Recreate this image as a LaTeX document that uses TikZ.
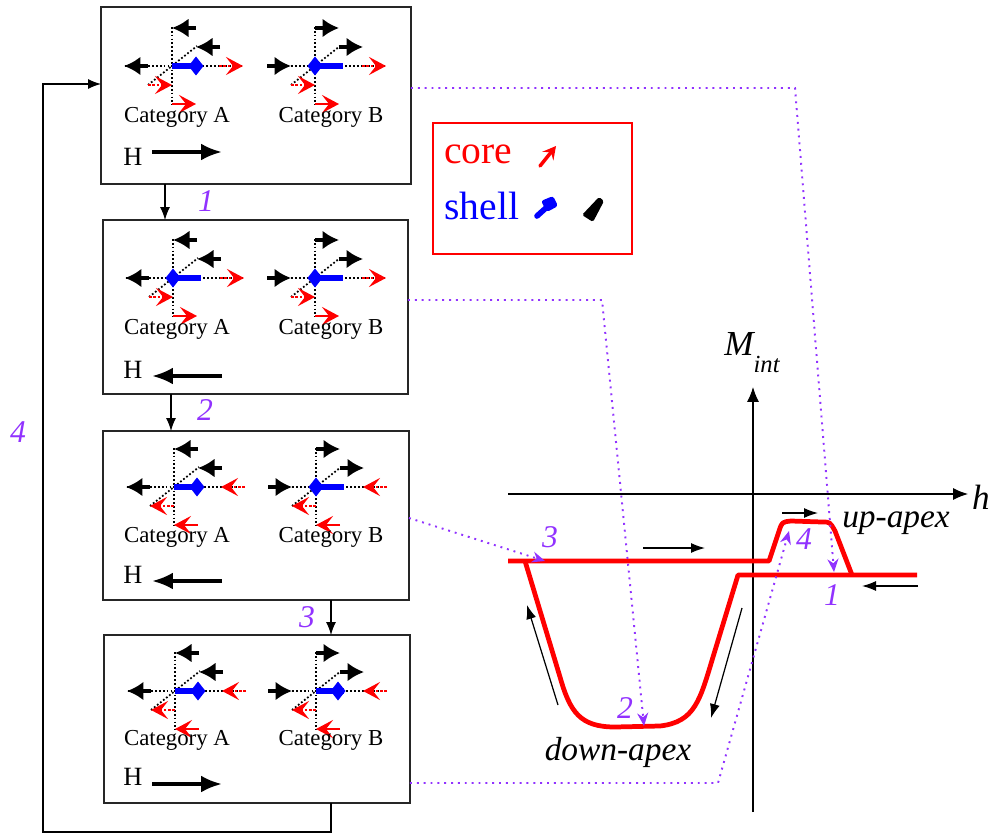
\documentclass[tikz,border=0pt]{standalone}
\usepackage{fontspec}
\setmainfont{Liberation Serif}
\usetikzlibrary{arrows.meta}
\definecolor{loopviolet}{RGB}{145,50,255}

\begin{document}
\begin{tikzpicture}[x=0.02cm,y=-0.02cm,font=\fontsize{13}{15}\selectfont]
    \tikzset{
        panel/.style={draw=black!85,line width=0.9pt,inner sep=0pt,outer sep=0pt},
        flow/.style={line width=0.7pt,-{Latex[length=2.6mm,width=2mm]}},
        crossline/.style={black,line width=1pt,dash pattern=on 1pt off 1.2pt},
        spin/.style={line width=2pt,-{Latex[length=3.3mm,width=3.8mm]}},
        corearrow/.style={red,line width=1.5pt,-{Stealth[length=3.4mm,width=3.6mm,inset=1.4mm]}},
        field/.style={line width=2.2pt,-{Latex[length=4.2mm,width=3.4mm]}},
        loopnum/.style={text=loopviolet,font=\fontsize{18}{18}\selectfont\itshape},
        track/.style={loopviolet,line width=1.1pt,dash pattern=on 1.1pt off 2.8pt,
            -{Stealth[length=2.6mm,width=2.2mm]}},
        loopcurve/.style={red,line width=2.7pt,line join=round},
        hint/.style={line width=0.7pt,-{Latex[length=2.8mm,width=2mm]}},
        apex/.style={font=\fontsize{19}{19}\selectfont\itshape}
    }
    \useasboundingbox (0,0) rectangle (989,834);

    % the four states, pixel units, y pointing down
    \node[panel,minimum width=6.2cm,minimum height=3.54cm] (b1) at (256,95.5) {};
    \node[panel,minimum width=6.1cm,minimum height=3.48cm] (b2) at (255.5,307) {};
    \node[panel,minimum width=6.12cm,minimum height=3.38cm] (b3) at (256,515.5) {};
    \node[panel,minimum width=6.12cm,minimum height=3.36cm] (b4) at (257,719) {};

    % cross centre / shell arrows / core arrows / diamond offset
    \foreach \gx/\gy/\bd/\rd/\dp in {
        172/66/-1/1/24, 315/66/1/1/0,
        173/278/-1/1/0, 315/278/1/1/0,
        174/487/-1/-1/23, 316/487/1/-1/0,
        175/691/-1/-1/23, 316/691/1/-1/22}{
        \begin{scope}[shift={(\gx,\gy)}]
            \draw[crossline] (0,-39) -- (0,39);
            \draw[crossline] (-47,0) -- (70,0);
            \draw[crossline] (-24,19) -- (25,-20);
            \draw[blue,line width=3pt] (0,0) -- (28,0);
            \fill[blue] ({\dp-7.5},0) -- (\dp,-9.5) -- ({\dp+7.5},0) -- (\dp,9.5) -- cycle;
            \draw[spin] ({12-12*\bd},-38) -- ({12+12*\bd},-38);
            \draw[spin] ({36-12*\bd},-19) -- ({36+12*\bd},-19);
            \draw[spin] ({-36-12*\bd},0) -- ({-36+12*\bd},0);
            \draw[corearrow,densely dotted] ({59-12*\rd},0) -- ({59+12*\rd},0);
            \draw[corearrow,densely dotted] ({-12-12*\rd},19) -- ({-12+12*\rd},19);
            \draw[corearrow] ({12-12*\rd},38) -- ({12+12*\rd},38);
        \end{scope}
    }

    \foreach \ty/\hy/\ay/\hd [count=\i] in {
        117/157/152/1, 329/370/376/-1, 537/575/581/-1, 740/777/784/1}{
        \node (ca\i) at (177,\ty) {Category A};
        \node (cb\i) at (331,\ty) {Category B};
        \node[font=\fontsize{15}{15}\selectfont] (h\i) at (133,\hy) {H};
        \draw[field] ({187-35*\hd},\ay) -- ({187+35*\hd},\ay);
    }

    % cycle between the states
    \coordinate (a1) at (165,0);
    \coordinate (a2) at (171,0);
    \coordinate (a3) at (331,0);
    \coordinate (lp) at (43,832);
    \coordinate (ly) at (0,84);
    \draw[flow] (b1.south -| a1) -- (b2.north -| a1);
    \draw[flow] (b2.south -| a2) -- (b3.north -| a2);
    \draw[flow] (b3.south -| a3) -- (b4.north -| a3);
    \draw[flow] (b4.south -| a3) |- (lp) |- (b1.west |- ly);
    \node[loopnum] (n1) at (206,201) {1};
    \node[loopnum] (n2) at (205,410) {2};
    \node[loopnum] (n3) at (307,617) {3};
    \node[loopnum] (n4) at (18,432) {4};

    % legend
    \node[draw=red,line width=0.8pt,inner sep=0pt,
        minimum width=3.98cm,minimum height=2.62cm] (legend) at (532.5,188.5) {};
    \node[anchor=base west,inner sep=0pt,text=red,
        font=\fontsize{22.5}{24}\selectfont] (core) at (444,164) {core};
    \node[anchor=base west,inner sep=0pt,text=blue,
        font=\fontsize{22.5}{24}\selectfont] (shell) at (444,220) {shell};
    \draw[red,line width=2pt,line cap=round,
        -{Stealth[length=2.6mm,width=2.8mm,inset=1mm]}] (540,166) -- (556,146);
    \draw[blue,line width=3.2pt,line cap=round] (537,216) -- (547,207);
    \fill[blue,rounded corners=1.5pt] (541,201) -- (553,196) -- (558,206) -- (547,212) -- cycle;
    \fill[black,rounded corners=1pt] (582,215) -- (593,222) -- (604,201) -- (599,197) -- cycle;

    % axes
    \draw[line width=0.6pt,-{Latex[length=3mm,width=2.4mm]}] (508,494) -- (968,494);
    \draw[line width=0.6pt,-{Latex[length=3mm,width=2.4mm]}] (753,812) -- (753,387);
    \node[font=\fontsize{20}{20}\selectfont\itshape] (hlab) at (981,497) {h};
    \node[anchor=base west,inner sep=0pt,font=\fontsize{20}{20}\selectfont\itshape]
        (mlab) at (724,355) {M\raisebox{-10pt}{\fontsize{14}{14}\selectfont int}};

    % loop of M_int against h
    \draw[loopcurve] (508,561) -- (769,561) -- (779,531) .. controls (782,522) .. (791,521)
        -- (822,522) .. controls (830,522) .. (835,531) -- (852,575);
    \draw[loopcurve] (917,575) -- (738,575) -- (713,657)
        .. controls (700,700) and (695,722) .. (660,726) -- (615,727)
        .. controls (580,727) and (570,712) .. (560,677) -- (525,561);
    \draw[hint] (643,548) -- (705,548);
    \draw[hint] (558,705) -- (527,605);
    \draw[hint] (742,608) -- (711,718);
    \draw[hint] (782,513) -- (818,513);
    \draw[hint] (918,586) -- (862,586);
    \node[apex] (up) at (896,523) {up-apex};
    \node[apex] (down) at (618,752) {down-apex};

    % where each state sits on the loop
    \coordinate (p1) at (834,572);
    \coordinate (p2) at (644,726);
    \coordinate (p3) at (545,561);
    \coordinate (p4) at (789,531);
    \coordinate (r1) at (0,88);
    \coordinate (r2) at (0,300);
    \coordinate (r3) at (0,518);
    \coordinate (r4) at (0,783);
    \draw[track] (b1.east |- r1) -- (795,88) -- (p1);
    \draw[track] (b2.east |- r2) -- (602,300) -- (p2);
    \draw[track] (b3.east |- r3) -- (p3);
    \draw[track] (b4.east |- r4) -- (718,783) -- (p4);
    \node[loopnum] (m1) at (832,595) {1};
    \node[loopnum] (m2) at (625,708) {2};
    \node[loopnum] (m3) at (550,537) {3};
    \node[loopnum] (m4) at (804,539) {4};
\end{tikzpicture}
\end{document}
